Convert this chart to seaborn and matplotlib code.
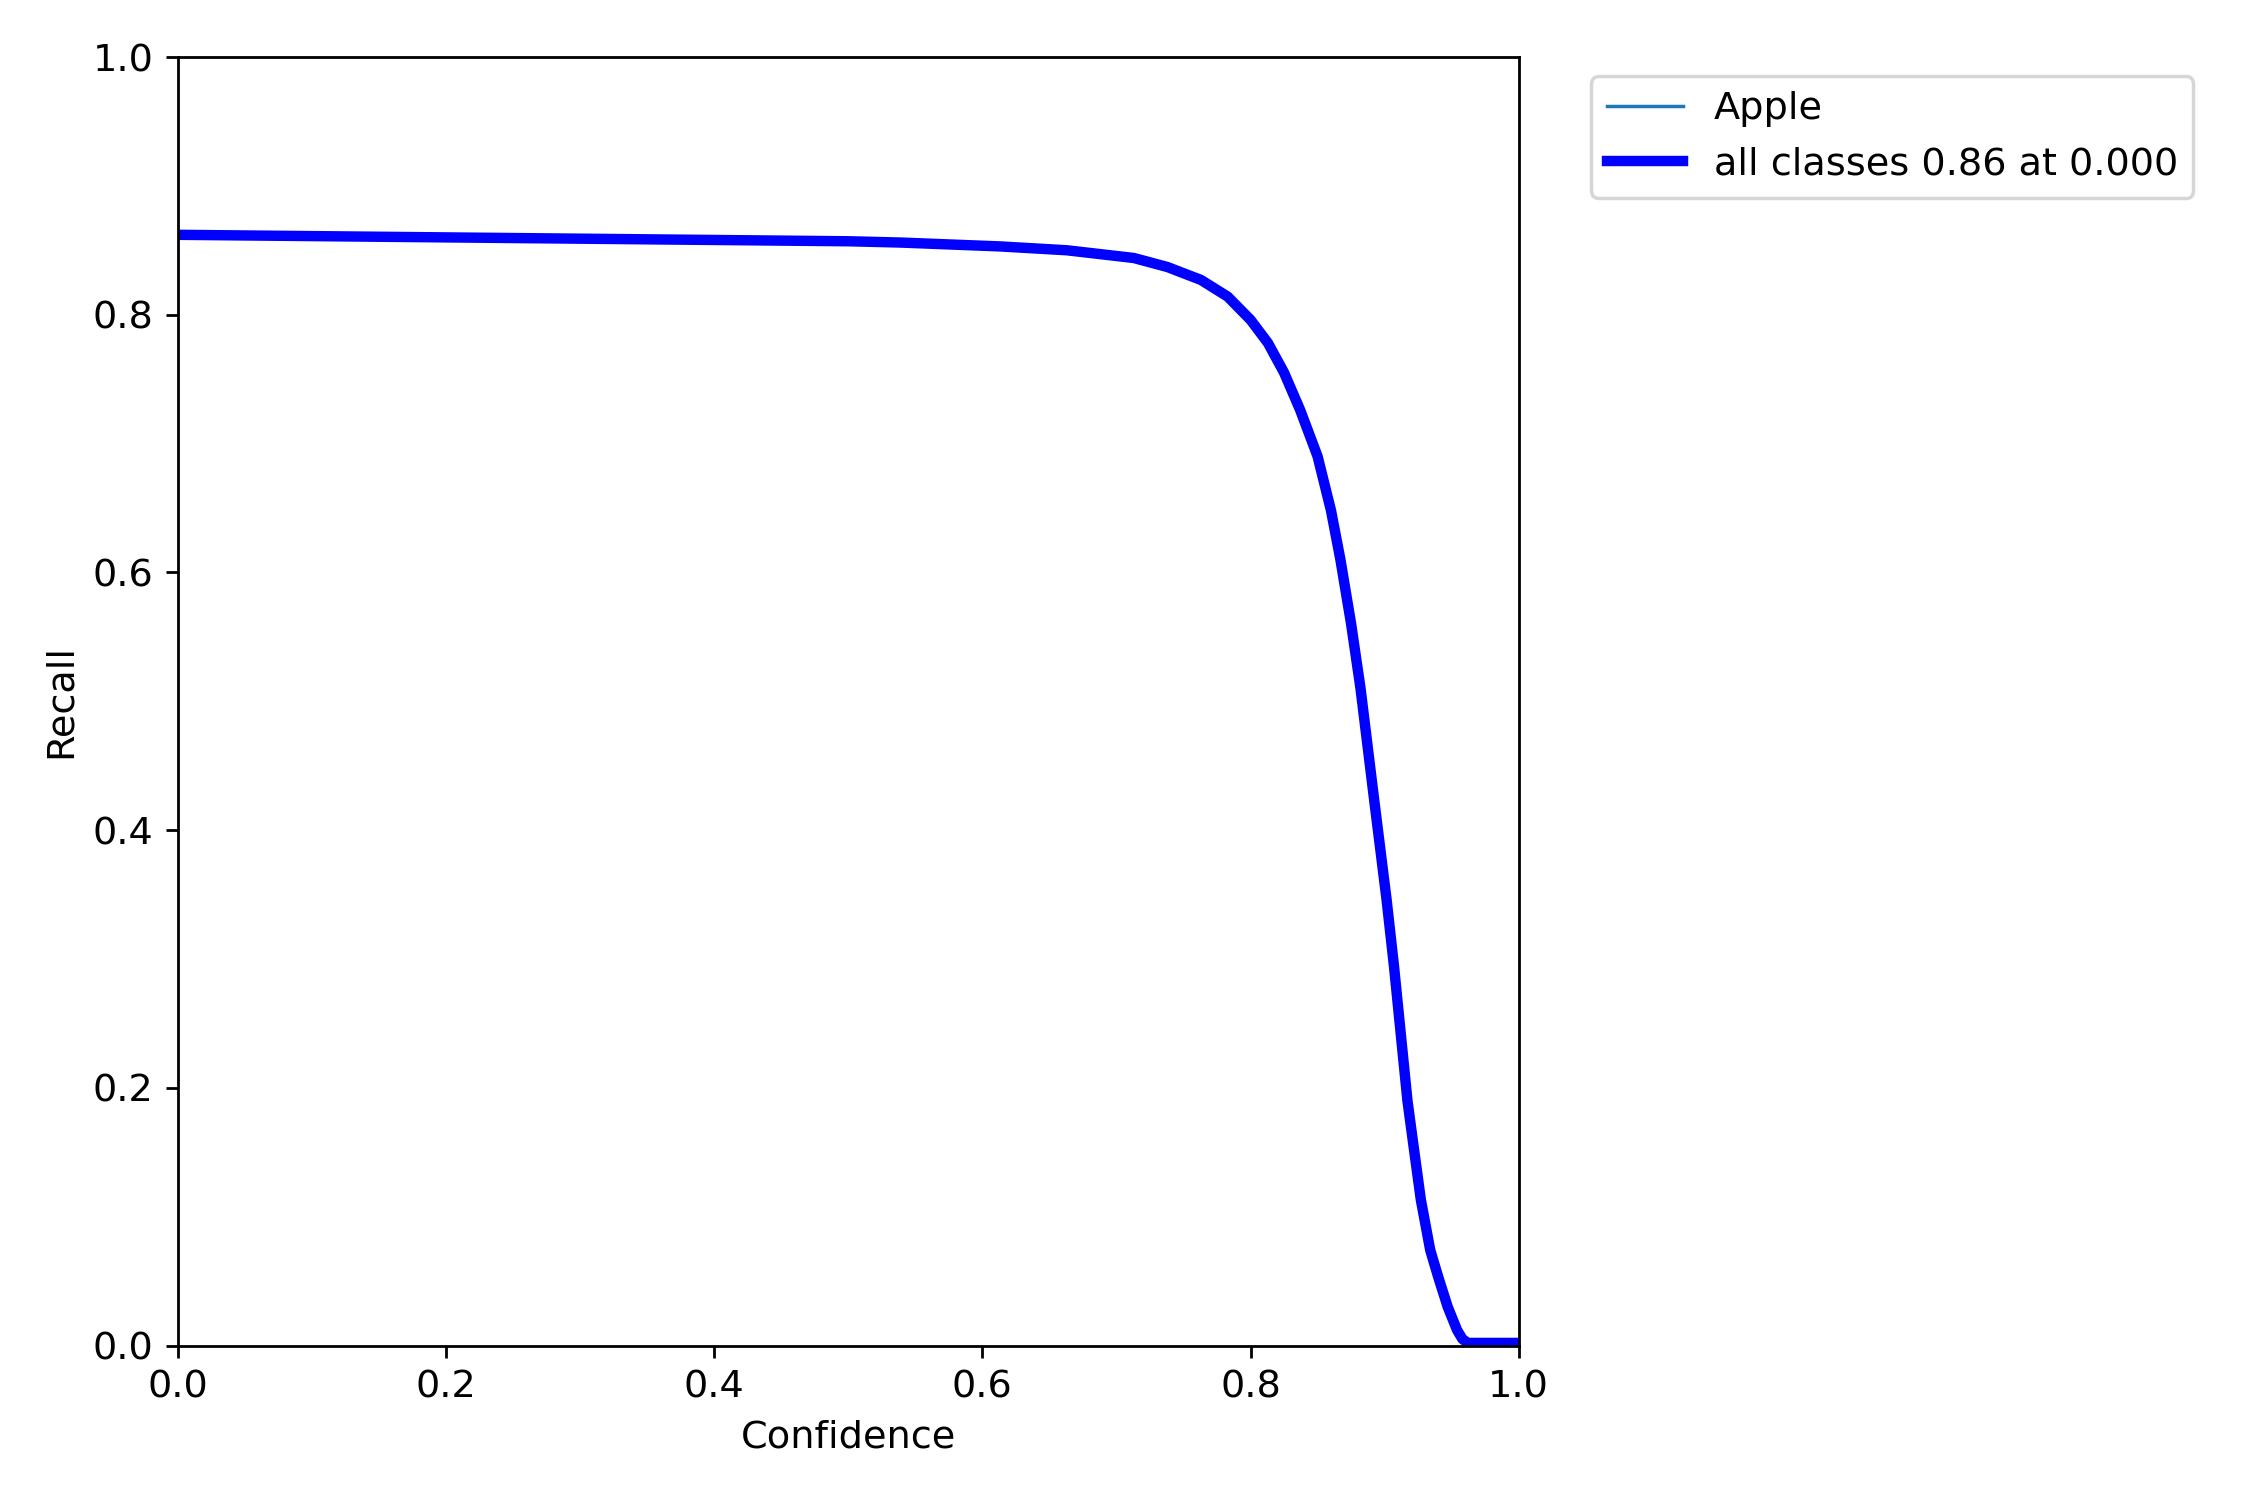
import matplotlib
matplotlib.use("Agg")
import matplotlib.pyplot as plt
import seaborn as sns
import pandas as pd

# Recall vs confidence
confidence = [0.0, 0.1, 0.2, 0.3, 0.4, 0.5, 0.539, 0.613, 0.663, 0.713, 0.738, 0.763,
              0.783, 0.80, 0.813, 0.825, 0.837, 0.85, 0.86, 0.867, 0.875, 0.882,
              0.892, 0.9015, 0.907, 0.912, 0.917, 0.921, 0.927, 0.934, 0.94, 0.947,
              0.954, 0.958, 0.962, 1.0]
recall = [0.862, 0.861, 0.860, 0.859, 0.858, 0.857, 0.856, 0.853, 0.850, 0.844, 0.837, 0.827,
          0.814, 0.796, 0.778, 0.755, 0.726, 0.690, 0.648, 0.610, 0.560, 0.510,
          0.425, 0.3455, 0.294, 0.242, 0.190, 0.159, 0.113, 0.074, 0.053, 0.030,
          0.012, 0.005, 0.002, 0.002]
class_name = "Apple"
all_label = "all classes 0.86 at 0.000"

df = pd.DataFrame({"Confidence": confidence, "Recall": recall})

plt.rcParams["font.size"] = 11
fig, ax = plt.subplots(figsize=(9, 6), dpi=250)

# per-class line (hidden under the mean line since there is only one class)
sns.lineplot(data=df, x="Confidence", y="Recall", ax=ax, linewidth=1,
             color="#1f77b4", label=class_name, estimator=None, sort=False)
# all classes
sns.lineplot(data=df, x="Confidence", y="Recall", ax=ax, linewidth=3,
             color="blue", label=all_label, estimator=None, sort=False)

ax.set_xlim(0, 1)
ax.set_ylim(0, 1)
ax.set_xlabel("Confidence")
ax.set_ylabel("Recall")
ax.legend(bbox_to_anchor=(1.04, 1), loc="upper left")

plt.subplots_adjust(left=0.079, right=0.675, bottom=0.103, top=0.962)
plt.savefig("out.png", dpi=250)
